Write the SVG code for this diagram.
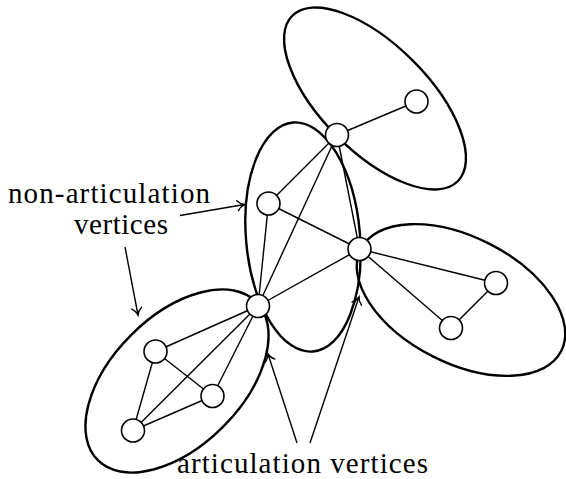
<svg xmlns="http://www.w3.org/2000/svg" width="566" height="479" viewBox="0 0 566 479">
<style>
.blk{fill:none;stroke:#000;stroke-width:2.4}
.e{stroke:#000;stroke-width:1.4;fill:none}
.n{fill:#fff;stroke:#000;stroke-width:1.6}
.arr{stroke:#000;stroke-width:1.4;fill:none;marker-end:url(#to)}
.t{font-family:"Times New Roman",Times,"Liberation Serif","DejaVu Serif",serif;font-size:29px;fill:#000}
</style>
<defs>
<marker id="to" viewBox="-9 -6 11 12" markerWidth="11" markerHeight="12" refX="0" refY="0" orient="auto" markerUnits="userSpaceOnUse">
<path d="M-7,-5 C-5,-2.2 -2.2,-0.6 0,0 C-2.2,0.6 -5,2.2 -7,5" fill="none" stroke="#000" stroke-width="1.4" stroke-linecap="round"/>
</marker>
</defs>
<g id="blocks">
<ellipse class="blk" cx="375" cy="98.5" rx="117" ry="53.5" transform="rotate(45 375 98.5)"/>
<ellipse class="blk" cx="303" cy="237" rx="57" ry="115" transform="rotate(-5 303 237)"/>
<ellipse class="blk" cx="461" cy="300" rx="112.5" ry="63" transform="rotate(27 461 300)"/>
<ellipse class="blk" cx="177" cy="381" rx="112" ry="65" transform="rotate(-45 177 381)"/>
</g>
<g id="edges">
<line class="e" x1="337" y1="135" x2="416.5" y2="101.5"/>
<line class="e" x1="337" y1="135" x2="268.5" y2="203.5"/>
<line class="e" x1="337" y1="135" x2="258" y2="306"/>
<line class="e" x1="337" y1="135" x2="359.5" y2="249"/>
<line class="e" x1="268.5" y1="203.5" x2="359.5" y2="249"/>
<line class="e" x1="268.5" y1="203.5" x2="258" y2="306"/>
<line class="e" x1="258" y1="306" x2="359.5" y2="249"/>
<line class="e" x1="359.5" y1="249" x2="496" y2="283"/>
<line class="e" x1="359.5" y1="249" x2="451" y2="328"/>
<line class="e" x1="496" y1="283" x2="451" y2="328"/>
<line class="e" x1="258" y1="306" x2="155.5" y2="351.5"/>
<line class="e" x1="258" y1="306" x2="133" y2="430.5"/>
<line class="e" x1="258" y1="306" x2="212.5" y2="396"/>
<line class="e" x1="155.5" y1="351.5" x2="212.5" y2="396"/>
<line class="e" x1="155.5" y1="351.5" x2="133" y2="430.5"/>
<line class="e" x1="133" y1="430.5" x2="212.5" y2="396"/>
</g>
<g id="A"><circle class="n" cx="337" cy="135" r="11.5"/></g>
<g id="B"><circle class="n" cx="416.5" cy="101.5" r="11.5"/></g>
<g id="C"><circle class="n" cx="268.5" cy="203.5" r="11.5"/></g>
<g id="D"><circle class="n" cx="359.5" cy="249" r="11.5"/></g>
<g id="E"><circle class="n" cx="258" cy="306" r="11.5"/></g>
<g id="F"><circle class="n" cx="496" cy="283" r="11.5"/></g>
<g id="G"><circle class="n" cx="451" cy="328" r="11.5"/></g>
<g id="H"><circle class="n" cx="155.5" cy="351.5" r="11.5"/></g>
<g id="I"><circle class="n" cx="212.5" cy="396" r="11.5"/></g>
<g id="J"><circle class="n" cx="133" cy="430.5" r="11.5"/></g>
<g id="annotations">
<line class="arr" x1="180" y1="215.5" x2="244.5" y2="204.5"/>
<line class="arr" x1="125" y1="247" x2="138" y2="315"/>
<line class="arr" x1="297" y1="443" x2="268" y2="354"/>
<line class="arr" x1="310" y1="443" x2="359" y2="297"/>
<text class="t" x="8" y="203" textLength="202" lengthAdjust="spacing">non-articulation</text>
<text class="t" x="74" y="234" textLength="94" lengthAdjust="spacing">vertices</text>
<text class="t" x="177" y="473" textLength="251" lengthAdjust="spacing">articulation vertices</text>
</g>
</svg>
